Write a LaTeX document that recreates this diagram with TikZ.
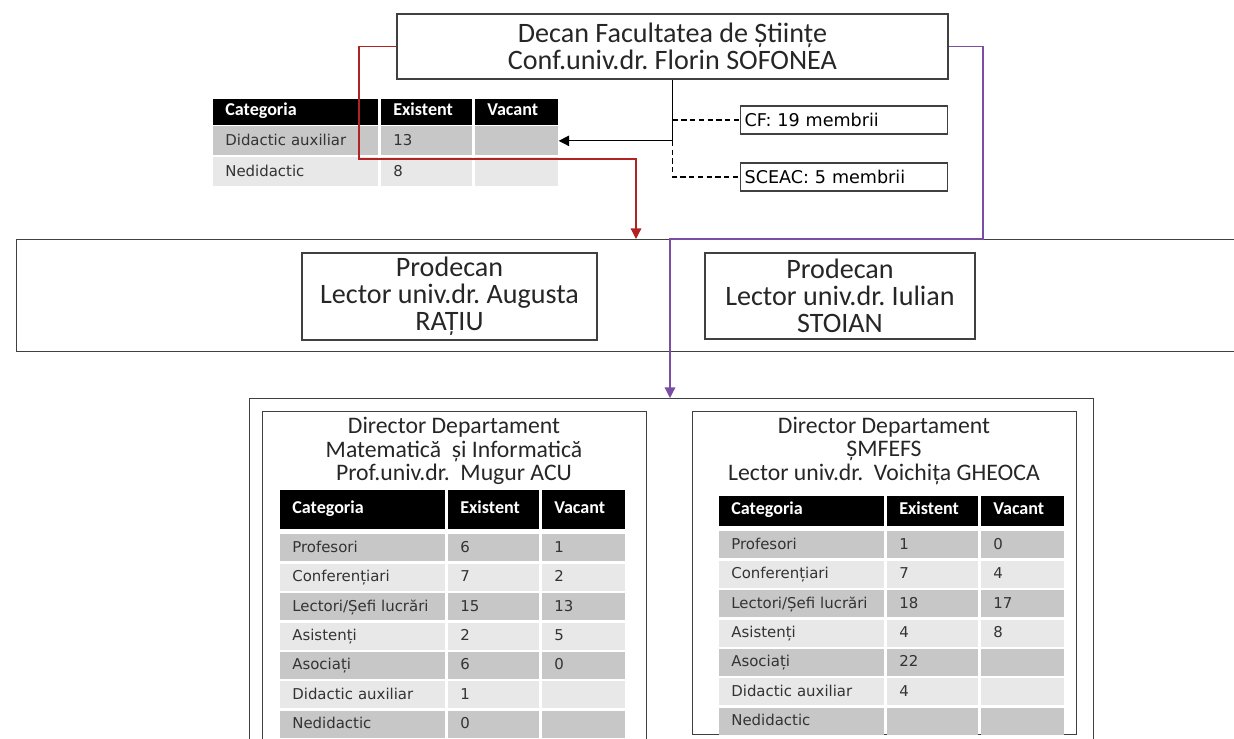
\documentclass[tikz,border=0pt]{standalone}
\usepackage{fontspec}
\setmainfont{Carlito}
\newfontfamily\verdanalike{DejaVu Sans}
\usetikzlibrary{arrows.meta}
\frenchspacing
\definecolor{redline}{HTML}{B22222}
\definecolor{purpleline}{HTML}{7A4FA3}
\colorlet{rowdark}{black!22}
\colorlet{rowlight}{black!9}
\tikzset{
boxframe/.style={draw=black!75, line width=0.8pt}, % border of every box
titlebox/.style={boxframe, align=center, inner sep=0pt, text=black!85, font=\fontsize{16}{15.5}\selectfont}, % decan and prodecani
depttitle/.style={align=center, inner sep=0pt, text=black!85, font=\fontsize{13.5}{13.2}\selectfont}, % heads of departments
notebox/.style={boxframe, anchor=west, minimum height=0.56cm, text width=3.98cm, inner xsep=0.08cm, align=left, font=\verdanalike\fontsize{10}{12}\selectfont}, % councils
cell/.style={anchor=north west, inner xsep=0.24cm, inner ysep=0pt, align=left, text height=7pt, text depth=2pt, text=black!80, font=\verdanalike\fontsize{8.5}{10}\selectfont}, % one cell of a table
head/.style={cell, fill=black, text=white, minimum height=#1, text height=8pt, text depth=4pt, font=\bfseries\fontsize{10.3}{12}\selectfont}, % header cell, height as value
row/.style={cell, minimum height=#1}, % body cell, height as value
catcol/.style={text width=2.82cm}, % column Categoria
excol/.style={text width=1.34cm}, % column Existent
vacol/.style={text width=1.18cm}, % column Vacant
link/.style={line width=0.7pt, -{Triangle[length=6pt,width=6pt]}}, % connectors with a head
dashline/.style={line width=0.6pt, dash pattern=on 3pt off 2pt}, % dashed connectors
}
\begin{document}
\begin{tikzpicture}[x=0.02cm, y=-0.02cm]
    \useasboundingbox (0,0) rectangle (1234,739);
    % decan and councils
    \node[titlebox, minimum width=11.02cm, minimum height=1.3cm] (decan) at (672.5,46.5) {Decan Facultatea de Științe\\Conf.univ.dr. Florin SOFONEA};
    \node[notebox] (cf) at (740,120) {CF: 19 membrii};
    \node[notebox] (sceac) at (740,177) {SCEAC: 5 membrii};
    % staff of the faculty
    \node[head=0.52cm, catcol] (st-h1) at (213,99) {Categoria};
    \node[head=0.52cm, excol] (st-h2) at (381,99) {Existent};
    \node[head=0.52cm, vacol] (st-h3) at (475,99) {Vacant};
    \node[row=0.58cm, catcol, fill=rowdark] (st-1-1) at (213,126) {Didactic auxiliar};
    \node[row=0.58cm, excol, fill=rowdark] (st-1-2) at (381,126) {13};
    \node[row=0.58cm, vacol, fill=rowdark] (st-1-3) at (475,126) {};
    \node[row=0.58cm, catcol, fill=rowlight] (st-2-1) at (213,157) {Nedidactic};
    \node[row=0.58cm, excol, fill=rowlight] (st-2-2) at (381,157) {8};
    \node[row=0.58cm, vacol, fill=rowlight] (st-2-3) at (475,157) {};
    % prodecani
    \node[boxframe, anchor=north west, minimum width=24.48cm, minimum height=2.24cm] (prodecani) at (16,239) {};
    \node[titlebox, minimum width=5.9cm, minimum height=1.74cm] (pro1) at (449.5,296.5) {Prodecan\\Lector univ.dr. Augusta\\RAȚIU};
    \node[titlebox, minimum width=5.4cm, minimum height=1.72cm] (pro2) at (840,296) {Prodecan\\Lector univ.dr. Iulian\\STOIAN};
    % departments
    \node[boxframe, anchor=north west, minimum width=16.88cm, minimum height=7.4cm] (depts) at (249,398) {};
    \node[boxframe, anchor=north west, minimum width=7.68cm, minimum height=7.2cm] (mi) at (262,411) {};
    \node[boxframe, anchor=north west, minimum width=7.68cm, minimum height=6.46cm] (smf) at (692,411) {};
    \node[depttitle] (mi-title) at (454,451) {Director Departament\\Matematică~ și Informatică\\Prof.univ.dr.~ Mugur ACU};
    \node[depttitle] (smf-title) at (884,451) {Director Departament\\ȘMFEFS\\Lector univ.dr.~ Voichița GHEOCA};
    \node[head=0.78cm, catcol] (mi-h1) at (280,490) {Categoria};
    \node[head=0.78cm, excol] (mi-h2) at (448,490) {Existent};
    \node[head=0.78cm, vacol] (mi-h3) at (542,490) {Vacant};
    \foreach \cat/\ex/\va/\shade [count=\i] in {Profesori/6/1/rowdark, Conferențiari/7/2/rowlight, {Lectori/Șefi lucrări}/15/13/rowdark, Asistenți/2/5/rowlight, Asociați/6/0/rowdark, Didactic auxiliar/1/{}/rowlight, Nedidactic/0/{}/rowdark}{
        \pgfmathsetmacro\rowy{534+29.4*(\i-1)}
        \node[row=0.54cm, catcol, fill=\shade] (mi-\i-1) at (280,\rowy) {\cat};
        \node[row=0.54cm, excol, fill=\shade] (mi-\i-2) at (448,\rowy) {\ex};
        \node[row=0.54cm, vacol, fill=\shade] (mi-\i-3) at (542,\rowy) {\va};
    }
    \node[head=0.6cm, catcol] (smf-h1) at (719,496) {Categoria};
    \node[head=0.6cm, excol] (smf-h2) at (887,496) {Existent};
    \node[head=0.6cm, vacol] (smf-h3) at (981,496) {Vacant};
    \foreach \cat/\ex/\va/\shade [count=\i] in {Profesori/1/0/rowdark, Conferențiari/7/4/rowlight, {Lectori/Șefi lucrări}/18/17/rowdark, Asistenți/4/8/rowlight, Asociați/22/{}/rowdark, Didactic auxiliar/4/{}/rowlight, Nedidactic/{}/{}/rowdark}{
        \pgfmathsetmacro\rowy{531+29.4*(\i-1)}
        \node[row=0.54cm, catcol, fill=\shade] (smf-\i-1) at (719,\rowy) {\cat};
        \node[row=0.54cm, excol, fill=\shade] (smf-\i-2) at (887,\rowy) {\ex};
        \node[row=0.54cm, vacol, fill=\shade] (smf-\i-3) at (981,\rowy) {\va};
    }
    % connectors
    \coordinate (redin) at (636,239);
    \coordinate (purpin) at (670,398);
    \draw[link] (decan.south) |- (st-1-3.east);
    \draw[dashline] (decan.south |- cf.west) -- (cf.west);
    \draw[dashline] (decan.south |- st-1-3.east) |- (sceac.west);
    \draw[link, draw=redline] (decan.west) -| (359,159) -| (redin);
    \draw[link, draw=purpleline] (decan.east) -| (983,239) -| (purpin);
\end{tikzpicture}
\end{document}
